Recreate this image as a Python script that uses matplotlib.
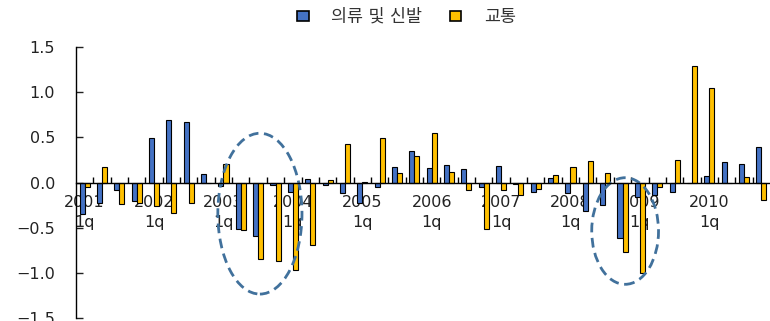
import matplotlib
matplotlib.use("Agg")
import matplotlib.pyplot as plt
from matplotlib.patches import Ellipse, Patch
import numpy as np

plt.rcParams['font.family'] = ['DejaVu Sans', 'Noto Sans CJK KR']

# quarterly contributions, 2001 1q .. 2010 4q
years = ['2001', '2002', '2003', '2004', '2005', '2006', '2007', '2008', '2009', '2010']
clothing = [-0.35, -0.23, -0.08, -0.21, 0.49, 0.69, 0.67, 0.09,
            -0.04, -0.52, -0.59, -0.03, -0.11, 0.04, -0.03, -0.12,
            -0.23, -0.05, 0.17, 0.35, 0.16, 0.19, 0.15, -0.05,
            0.18, -0.02, -0.10, 0.05, -0.12, -0.31, -0.25, -0.61,
            -0.16, -0.14, -0.10, -0.01, 0.07, 0.23, 0.20, 0.39]
transport = [-0.05, 0.17, -0.24, -0.23, -0.26, -0.34, -0.23, -0.01,
             0.20, -0.53, -0.85, -0.87, -0.97, -0.69, 0.03, 0.43,
             0.01, 0.49, 0.11, 0.29, 0.55, 0.12, -0.08, -0.51,
             -0.08, -0.14, -0.07, 0.08, 0.17, 0.24, 0.10, -0.77,
             -1.00, -0.05, 0.25, 1.29, 1.05, -0.01, 0.06, -0.19]

blue = '#4472c4'
yellow = '#ffc000'
ring = '#41719c'

n = len(clothing)
x = np.arange(n)
w = 0.29

fig = plt.figure(figsize=(7.7, 3.21), dpi=100)
ax = fig.add_axes([0.0987, 0.0093, 0.9013, 0.8443])

# bars sit above the year labels
ax.bar(x - w / 2, clothing, width=w, color=blue, edgecolor='black', linewidth=0.8, zorder=3)
ax.bar(x + w / 2, transport, width=w, color=yellow, edgecolor='black', linewidth=0.8, zorder=3)

# highlight the two slumps
ax.add_patch(Ellipse((10.1, -0.345), 4.85, 1.78, fill=False, edgecolor=ring,
                     linewidth=2, linestyle=(0, (3.5, 2)), zorder=4))
ax.add_patch(Ellipse((31.15, -0.537), 3.85, 1.18, fill=False, edgecolor=ring,
                     linewidth=2, linestyle=(0, (3.5, 2)), zorder=4))

ax.set_xlim(-0.5, n - 0.5)
ax.set_ylim(-1.5, 1.5)
ax.set_yticks([-1.5, -1.0, -0.5, 0.0, 0.5, 1.0, 1.5])
ax.set_yticklabels(['\u22121.5', '\u22121.0', '\u22120.5', '0.0', '0.5', '1.0', '1.5'])

for s in ['top', 'right']:
    ax.spines[s].set_visible(False)
ax.spines['bottom'].set_position(('data', 0))
ax.spines['bottom'].set_zorder(5)
ax.spines['left'].set_zorder(5)
ax.spines['left'].set_linewidth(1.0)
ax.spines['bottom'].set_linewidth(1.0)

ax.set_xticks(np.arange(0.5, n - 0.5, 1.0))
ax.set_xticklabels([])
ax.set_xticks(np.arange(0, n, 4), minor=True)
ax.set_xticklabels([y + '\n1q' for y in years], minor=True)
ax.tick_params(axis='x', which='major', direction='in', length=4, width=1)
ax.tick_params(axis='x', which='minor', length=0, pad=9, labelsize=11.5, colors='#222222')
ax.tick_params(axis='y', direction='in', length=5, width=1, pad=15, labelsize=11.5, colors='#222222')
for t in ax.get_xticklabels(minor=True):
    t.set_linespacing(1.4)

handles = [Patch(facecolor=blue, edgecolor='black', linewidth=1.2),
           Patch(facecolor=yellow, edgecolor='black', linewidth=1.2)]
fig.legend(handles, ['의류 및 신발', '교통'], loc='center', bbox_to_anchor=(0.528, 0.947),
           ncol=2, frameon=False, fontsize=12.5, handlelength=0.65, handleheight=0.55,
           handletextpad=1.3, columnspacing=1.6, labelcolor='#333333')

fig.savefig('out.png', dpi=100)
